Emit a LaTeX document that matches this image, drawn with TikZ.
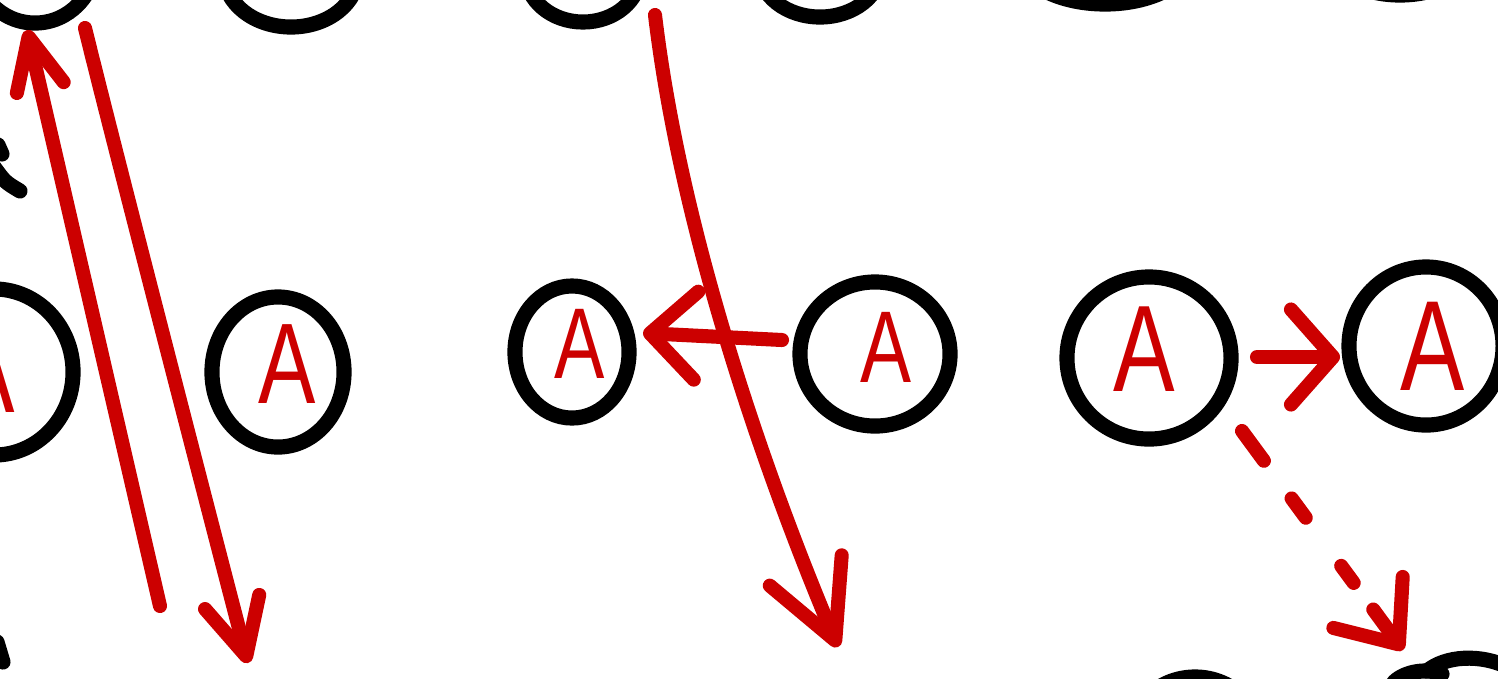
\documentclass[tikz,border=0pt]{standalone}
\usepackage{fontspec}
\newfontfamily\handA[FakeStretch=0.75]{Liberation Sans}
\usetikzlibrary{shapes.geometric,arrows.meta}
\definecolor{hred}{RGB}{204,0,0}
\tikzset{
  ring/.style 2 args={ellipse, draw=black, line width=4.3pt, inner sep=0pt, outer sep=0pt, minimum width=#1, minimum height=#2},
  ink/.style={draw=black, line width=4.3pt, line cap=round, line join=round},
  letter/.style={text=hred, inner sep=0pt, font=\handA\fontsize{#1}{#1}\selectfont},
  redline/.style={draw=hred, line width=4pt, line cap=round, line join=round},
  tipped/.style 2 args={redline, -{Straight Barb[round, length=#1, width=#2]}},
}
\begin{document}
\begin{tikzpicture}[x=0.01cm, y=-0.01cm]
\useasboundingbox (0,0) rectangle (1498,678);
\clip (0,0) rectangle (1498,678);
\fill[white] (0,0) rectangle (1498,678);

% top row (cut off)
\node[ring={1.22cm}{1.26cm}] (t1) at (35,-40) {};
\node[ring={1.34cm}{1.06cm}] (t2) at (291,-26) {};
\node[ring={1.14cm}{0.96cm}] (t3) at (583,-26) {};
\node[ring={1.22cm}{0.96cm}] (t4) at (820,-31) {};
\node[ring={1.78cm}{1.00cm}] (t5) at (1105,-46) {};
\node[ring={1.58cm}{1.02cm}] (t6) at (1400,-56) {};

% middle row
\node[ring={1.58cm}{1.66cm}] (c1) at (-6,372) {};
\node[ring={1.32cm}{1.50cm}] (c2) at (278,372) {};
\node[ring={1.14cm}{1.32cm}] (c3) at (572,352) {};
\node[ring={1.50cm}{1.44cm}] (c4) at (875,354) {};
\node[ring={1.64cm}{1.62cm}] (c5) at (1149,358) {};
\node[ring={1.54cm}{1.58cm}] (c6) at (1426,346) {};

\node[letter=33.8pt] (a1) at (-15,372) {A};
\node[letter=32.6pt] (a2) at (287,364) {A};
\node[letter=28.6pt] (a3) at (580,344) {A};
\node[letter=29pt]   (a4) at (886,347) {A};
\node[letter=35pt]   (a5) at (1144,349) {A};
\node[letter=36.5pt] (a6) at (1433,346) {A};

% bottom row (cut off)
\node[ring={1.38cm}{1.38cm}] (b2) at (1195,746) {};
\draw[ink] (1427,671) .. controls (1445,656) and (1480,653) .. (1510,668);
\draw[ink] (1394,682) .. controls (1405,671) and (1428,668) .. (1442,674);

% stray strokes at the left edge
\draw[ink] (-2,145) -- (2,154);
\draw[ink] (-6,167) .. controls (5,182) .. (20,191);
\draw[ink] (-3,642) -- (3,662);

% arrow end points
\coordinate (A0) at (160,606);
\coordinate (A1) at (27,30);
\coordinate (B0) at (85,28);
\coordinate (B1) at (248,663);
\coordinate (C0) at (655,15);
\coordinate (C1) at (838,647);
\coordinate (D0) at (782,340);
\coordinate (D1) at (643,333);
\coordinate (E0) at (1257,357);
\coordinate (E1) at (1340,357);
\coordinate (F0) at (1242,431);
\coordinate (F1) at (1403,650);

% red arrows
\draw[tipped={0.52cm}{0.48cm}] (A0) -- (A1);
\draw[tipped={0.56cm}{0.56cm}] (B0) .. controls (105,110) and (190,440) .. (B1);
\draw[tipped={0.76cm}{0.78cm}] (C0) .. controls (680,225) and (760,462) .. (C1);
\draw[tipped={0.46cm}{0.88cm}] (D0) -- (D1);
\draw[tipped={0.42cm}{0.95cm}] (E0) -- (E1);
\draw[tipped={0.52cm}{0.86cm}, dash pattern=on 10.5pt off 13.3pt on 6.8pt off 17pt on 6pt off 9.4pt on 30pt] (F0) -- (F1);
\end{tikzpicture}
\end{document}
